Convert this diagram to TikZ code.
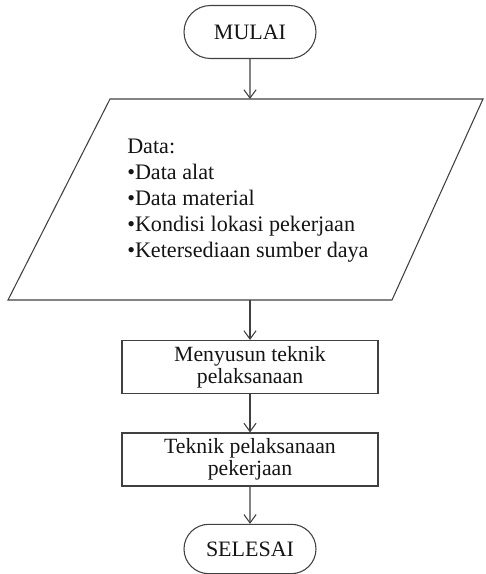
\documentclass[tikz,border=0pt]{standalone}
\usepackage{fontspec}
\setmainfont{Liberation Serif}
\usetikzlibrary{arrows.meta,positioning,shapes.misc}
\definecolor{linegray}{RGB}{64,64,64}
\definecolor{textblack}{RGB}{20,20,20}

\begin{document}
\begin{tikzpicture}[x=0.75pt,y=-0.75pt,
  terminal/.style={rounded rectangle,draw=linegray,line width=0.8pt,minimum width=99pt,minimum height=39.75pt,inner sep=0pt,text=textblack,font=\fontsize{16.5}{17}\selectfont},
  procbox/.style={rectangle,draw=linegray,line width=0.8pt,minimum width=192pt,minimum height=39.75pt,align=center,inner sep=0pt,text=textblack,font=\fontsize{16.3}{16.8}\selectfont},
  datatext/.style={inner sep=0pt,text=textblack,font=\fontsize{16.6}{19.5}\selectfont},
  flowarrow/.style={draw=linegray,line width=0.8pt,-{Straight Barb[length=2.2mm,width=3.2mm]}}]
  \useasboundingbox (0,0) rectangle (485,574);

  \node[terminal] (mulai) at (250,32) {MULAI};

  % input data
  \draw[linegray,line width=0.8pt] (110,99) -- (483,99) -- (392,300) -- (8,300) -- cycle;
  \coordinate (datatop) at (250,99);
  \coordinate (databot) at (250,300);
  \foreach \txt [count=\i] in {Data:,•Data alat,•Data material,•Kondisi lokasi pekerjaan,•Ketersediaan sumber daya}{
    \node[datatext,anchor=base west] (line\i) at (127,127+26*\i) {\txt};
  }

  \node[procbox] (susun) at (250,367) {Menyusun teknik\\pelaksanaan};
  \node[procbox] (teknik) at (250,459.5) {Teknik pelaksanaan\\pekerjaan};

  \node[terminal,minimum height=37pt] (selesai) at (250,549) {SELESAI};

  \draw[flowarrow] (mulai) -- (datatop);
  \draw[flowarrow] (databot) -- (susun);
  \draw[flowarrow] (susun) -- (teknik);
  \draw[flowarrow] (teknik) -- (selesai);
\end{tikzpicture}
\end{document}
